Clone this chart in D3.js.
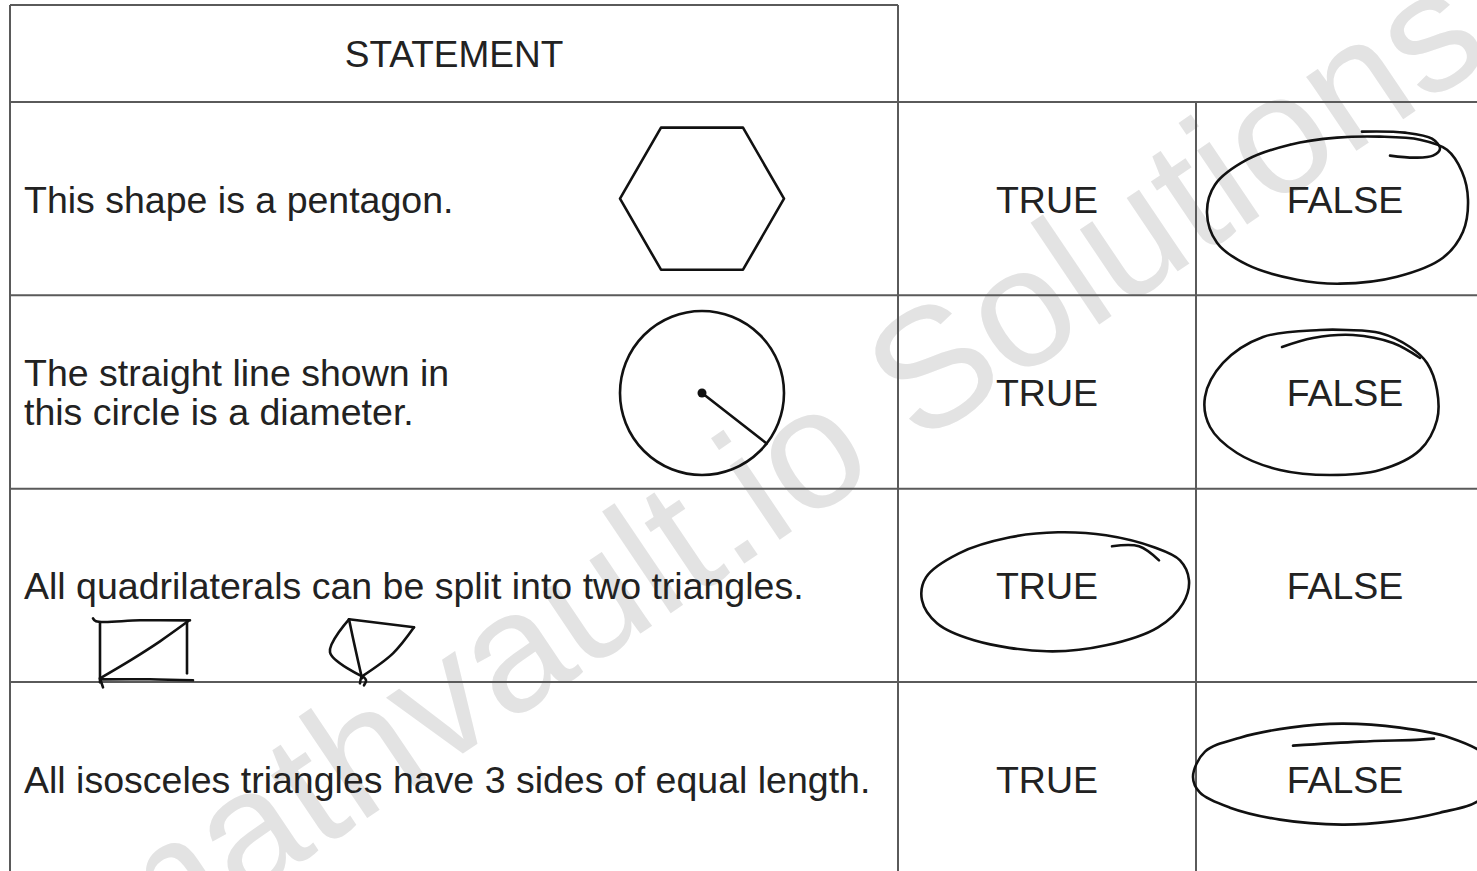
<!DOCTYPE html>
<html>
<head>
<meta charset="utf-8">
<script src="https://cdn.jsdelivr.net/npm/d3@7"></script>
<style>
  html, body { margin: 0; padding: 0; background: #fff; }
  svg { display: block; }
</style>
</head>
<body>
<svg id="chart" width="1477" height="871"></svg>
<script>
// ---------- data ----------
const headerLabel = "STATEMENT";
const statements = [
  ["This shape is a pentagon."],
  ["The straight line shown in", "this circle is a diameter."],
  ["All quadrilaterals can be split into two triangles."],
  ["All isosceles triangles have 3 sides of equal length."]
];
const choiceLabels = ["TRUE", "FALSE"];
const circledAnswer = ["FALSE", "FALSE", "TRUE", "FALSE"];
const watermarkText = "mathvault.io Solutions";

// hand-drawn loops around the circled answer (offsets from cell centre)
const answerLoops = [
  [[-8,-61],[-55,-54],[-98,-39],[-130,-14],[-138,14],[-128,44],[-98,66],[-48,81],[-5,85],[52,78],[98,59],[118,33],[123,1],[117,-27],[102,-49],[75,-59],[35,-62]],
  [[-25,-62],[-82,-55],[-122,-29],[-140,5],[-135,35],[-108,61],[-65,78],[-15,83],[35,78],[75,58],[92,28],[92,-2],[82,-29],[65,-45],[35,-59],[2,-62]],
  [[11,-53],[-37,-48],[-88,-32],[-121,-8],[-125,15],[-110,38],[-73,55],[0,66],[59,60],[111,42],[136,18],[142,-5],[133,-25],[107,-38],[59,-50]],
  [[-3,-55],[-55,-51],[-105,-41],[-140,-27],[-152,-2],[-145,14],[-115,29],[-65,41],[-3,46],[45,43],[95,34],[135,21],[150,-4],[140,-24],[105,-41],[55,-51]]
];
const answerTails = [
  [[17,-67],[60,-66],[87,-60],[95,-50],[88,-43],[70,-41],[45,-43]],
  [[-63,-45],[-32,-54],[8,-57],[48,-49],[75,-34]],
  [[65,-39],[92,-39],[112,-25]],
  [[-52,-33],[15,-37],[75,-39],[89,-40]]
];
// quadrilateral sketches in row 3 (x absolute in statement column, y offset from row centre)
const quadStrokes = [
  [[93,33],[96,36],[140,35],[190,35]],
  [[100,37],[100,70],[100,97]],
  [[187,35],[187,60],[187,88]],
  [[100,94],[150,94],[193,95]],
  [[100,93],[132,74],[160,56],[188,36]],
  [[100,93],[103,102]],
  [[349,34],[414,42]],
  [[414,42],[393,68],[362,91]],
  [[362,91],[330,67],[349,34]],
  [[349,34],[355,62],[362,93]],
  [[360,98],[362,91],[366,95],[364,100]]
];

// ---------- layout ----------
const W = 1477, H = 871;
const svg = d3.select("#chart");
const font = "'Liberation Sans', Arial, Helvetica, sans-serif";
const lineColor = "#5a5a5a";
const inkColor = "#111";
const textColor = "#222";

const cols = { statement: [10, 898], TRUE: [898, 1196], FALSE: [1196, 1494] };
const headerTop = 5, headerBottom = 102;
const y = d3.scaleBand().domain(d3.range(statements.length)).range([headerBottom, headerBottom + 193.33 * statements.length]).padding(0);
const colCenter = k => (cols[k][0] + cols[k][1]) / 2;
const rowCenter = i => y(i) + y.bandwidth() / 2;

svg.append("rect").attr("width", W).attr("height", H).attr("fill", "#fff");

// watermark
svg.append("text")
  .attr("transform", "translate(124,982) rotate(-34)")
  .attr("font-family", font)
  .attr("font-size", 169)
  .attr("fill", "#e3e3e3")
  .text(watermarkText);

// grid lines
const grid = svg.append("g").attr("stroke", lineColor).attr("stroke-width", 2).attr("fill", "none");
grid.append("line").attr("x1", cols.statement[0]).attr("x2", cols.statement[1]).attr("y1", headerTop).attr("y2", headerTop);
[headerBottom, ...d3.range(1, statements.length).map(i => y(i))].forEach(yy => {
  grid.append("line").attr("x1", cols.statement[0]).attr("x2", W).attr("y1", yy).attr("y2", yy);
});
grid.append("line").attr("x1", cols.statement[0]).attr("x2", cols.statement[0]).attr("y1", headerTop).attr("y2", H);
grid.append("line").attr("x1", cols.statement[1]).attr("x2", cols.statement[1]).attr("y1", headerTop).attr("y2", H);
grid.append("line").attr("x1", cols.TRUE[1]).attr("x2", cols.TRUE[1]).attr("y1", headerBottom).attr("y2", H);

// header text
svg.append("text")
  .attr("x", colCenter("statement")).attr("y", (headerTop + headerBottom) / 2 + 13)
  .attr("text-anchor", "middle")
  .attr("font-family", font).attr("font-size", 37).attr("fill", textColor)
  .text(headerLabel);

// statements
const lineGap = 39;
statements.forEach((lines, i) => {
  const c = rowCenter(i);
  const t = svg.append("text")
    .attr("font-family", font).attr("font-size", 37.5).attr("fill", textColor);
  lines.forEach((ln, j) => {
    t.append("tspan")
      .attr("x", 24)
      .attr("y", c + 14 + (j - (lines.length - 1) / 2) * lineGap)
      .text(ln);
  });
  choiceLabels.forEach(k => {
    svg.append("text")
      .attr("x", colCenter(k)).attr("y", c + 14)
      .attr("text-anchor", "middle")
      .attr("font-family", font).attr("font-size", 37.5).attr("fill", textColor)
      .text(k);
  });
});

// shapes
const ink = svg.append("g").attr("stroke", inkColor).attr("fill", "none").attr("stroke-width", 2.6)
  .attr("stroke-linejoin", "round").attr("stroke-linecap", "round");
const shapeX = 702, shapeR = 82;
// hexagon in row 0
const hex = d3.range(6).map(k => {
  const a = Math.PI / 3 * k;
  return [shapeX + shapeR * Math.cos(a), rowCenter(0) + shapeR * Math.sin(a)];
});
ink.append("path").attr("d", d3.line()(hex) + "Z");
// circle in row 1
const cy1 = rowCenter(1) + 1;
ink.append("circle").attr("cx", shapeX).attr("cy", cy1).attr("r", shapeR);
const ang = 38 * Math.PI / 180;
ink.append("line").attr("x1", shapeX).attr("y1", cy1)
  .attr("x2", shapeX + shapeR * Math.cos(ang)).attr("y2", cy1 + shapeR * Math.sin(ang));
svg.append("circle").attr("cx", shapeX).attr("cy", cy1).attr("r", 4.5).attr("fill", inkColor);

// sketches in row 2
const sketchLine = d3.line().curve(d3.curveCatmullRom.alpha(0.5));
const hand = svg.append("g").attr("stroke", inkColor).attr("fill", "none").attr("stroke-width", 2.6)
  .attr("stroke-linejoin", "round").attr("stroke-linecap", "round");
quadStrokes.forEach(s => {
  hand.append("path").attr("d", sketchLine(s.map(p => [p[0], rowCenter(2) + p[1]])));
});

// circled answers
const loopLine = d3.line().curve(d3.curveCatmullRomClosed.alpha(0.5));
circledAnswer.forEach((ans, i) => {
  const cx = colCenter(ans), cy = rowCenter(i);
  hand.append("path").attr("d", loopLine(answerLoops[i].map(p => [cx + p[0], cy + p[1]])));
  hand.append("path").attr("d", sketchLine(answerTails[i].map(p => [cx + p[0], cy + p[1]])));
});
</script>
</body>
</html>
